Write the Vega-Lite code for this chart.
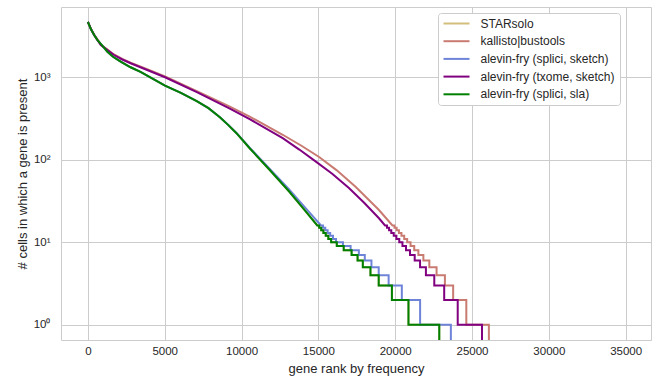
{
  "$schema": "https://vega.github.io/schema/vega-lite/v6.json",
  "width": 590,
  "height": 333,
  "autosize": {"type": "none"},
  "padding": {"left": 61, "top": 7, "right": 5, "bottom": 42},
  "background": "white",
  "config": {
    "font": "Liberation Sans",
    "view": {"stroke": "#cccccc", "strokeWidth": 1},
    "axis": {
      "domain": false,
      "ticks": false,
      "grid": true,
      "gridColor": "#cccccc",
      "gridWidth": 1,
      "labelColor": "#262626",
      "titleColor": "#262626",
      "labelFontSize": 11.5,
      "titleFontSize": 13,
      "titleFontWeight": "normal",
      "labelFont": "Liberation Sans",
      "titleFont": "Liberation Sans"
    }
  },
  "datasets": {
    "curves": [
      {"method": "STARsolo", "rank": 0, "cells": 4700},
      {"method": "STARsolo", "rank": 194, "cells": 3837},
      {"method": "STARsolo", "rank": 407, "cells": 3247},
      {"method": "STARsolo", "rank": 627, "cells": 2825},
      {"method": "STARsolo", "rank": 937, "cells": 2420},
      {"method": "STARsolo", "rank": 1273, "cells": 2041},
      {"method": "STARsolo", "rank": 1615, "cells": 1783},
      {"method": "STARsolo", "rank": 2132, "cells": 1545},
      {"method": "STARsolo", "rank": 2778, "cells": 1321},
      {"method": "STARsolo", "rank": 3424, "cells": 1159},
      {"method": "STARsolo", "rank": 5019, "cells": 791},
      {"method": "STARsolo", "rank": 6053, "cells": 646},
      {"method": "STARsolo", "rank": 7087, "cells": 515},
      {"method": "STARsolo", "rank": 7849, "cells": 422},
      {"method": "STARsolo", "rank": 8592, "cells": 327},
      {"method": "STARsolo", "rank": 9141, "cells": 263},
      {"method": "STARsolo", "rank": 9671, "cells": 210},
      {"method": "STARsolo", "rank": 10530, "cells": 138},
      {"method": "STARsolo", "rank": 11822, "cells": 75.7},
      {"method": "STARsolo", "rank": 13114, "cells": 41},
      {"method": "STARsolo", "rank": 14083, "cells": 24.9},
      {"method": "STARsolo", "rank": 14930, "cells": 16},
      {"method": "STARsolo", "rank": 15053, "cells": 16},
      {"method": "STARsolo", "rank": 15053, "cells": 15},
      {"method": "STARsolo", "rank": 15186, "cells": 15},
      {"method": "STARsolo", "rank": 15186, "cells": 14},
      {"method": "STARsolo", "rank": 15327, "cells": 14},
      {"method": "STARsolo", "rank": 15327, "cells": 13},
      {"method": "STARsolo", "rank": 15481, "cells": 13},
      {"method": "STARsolo", "rank": 15481, "cells": 12},
      {"method": "STARsolo", "rank": 15649, "cells": 12},
      {"method": "STARsolo", "rank": 15649, "cells": 11},
      {"method": "STARsolo", "rank": 15830, "cells": 11},
      {"method": "STARsolo", "rank": 15830, "cells": 10},
      {"method": "STARsolo", "rank": 16200, "cells": 10},
      {"method": "STARsolo", "rank": 16200, "cells": 9},
      {"method": "STARsolo", "rank": 16650, "cells": 9},
      {"method": "STARsolo", "rank": 16650, "cells": 8},
      {"method": "STARsolo", "rank": 17164, "cells": 8},
      {"method": "STARsolo", "rank": 17164, "cells": 7},
      {"method": "STARsolo", "rank": 17552, "cells": 7},
      {"method": "STARsolo", "rank": 17552, "cells": 6},
      {"method": "STARsolo", "rank": 17894, "cells": 6},
      {"method": "STARsolo", "rank": 17894, "cells": 5},
      {"method": "STARsolo", "rank": 18391, "cells": 5},
      {"method": "STARsolo", "rank": 18391, "cells": 4},
      {"method": "STARsolo", "rank": 18928, "cells": 4},
      {"method": "STARsolo", "rank": 18928, "cells": 3},
      {"method": "STARsolo", "rank": 19787, "cells": 3},
      {"method": "STARsolo", "rank": 19787, "cells": 2},
      {"method": "STARsolo", "rank": 20865, "cells": 2},
      {"method": "STARsolo", "rank": 20865, "cells": 1},
      {"method": "STARsolo", "rank": 22870, "cells": 1},
      {"method": "STARsolo", "rank": 22870, "cells": 0.1},

      {"method": "kallisto|bustools", "rank": 0, "cells": 4700},
      {"method": "kallisto|bustools", "rank": 194, "cells": 3860},
      {"method": "kallisto|bustools", "rank": 407, "cells": 3280},
      {"method": "kallisto|bustools", "rank": 840, "cells": 2490},
      {"method": "kallisto|bustools", "rank": 1700, "cells": 1890},
      {"method": "kallisto|bustools", "rank": 2235, "cells": 1665},
      {"method": "kallisto|bustools", "rank": 2780, "cells": 1500},
      {"method": "kallisto|bustools", "rank": 3860, "cells": 1250},
      {"method": "kallisto|bustools", "rank": 5020, "cells": 1025},
      {"method": "kallisto|bustools", "rank": 7090, "cells": 680},
      {"method": "kallisto|bustools", "rank": 9240, "cells": 441},
      {"method": "kallisto|bustools", "rank": 10530, "cells": 334},
      {"method": "kallisto|bustools", "rank": 12680, "cells": 201},
      {"method": "kallisto|bustools", "rank": 13900, "cells": 148},
      {"method": "kallisto|bustools", "rank": 15050, "cells": 108},
      {"method": "kallisto|bustools", "rank": 16200, "cells": 74.5},
      {"method": "kallisto|bustools", "rank": 17420, "cells": 47},
      {"method": "kallisto|bustools", "rank": 18930, "cells": 24.8},
      {"method": "kallisto|bustools", "rank": 19822, "cells": 16},
      {"method": "kallisto|bustools", "rank": 19953, "cells": 16},
      {"method": "kallisto|bustools", "rank": 19953, "cells": 15},
      {"method": "kallisto|bustools", "rank": 20094, "cells": 15},
      {"method": "kallisto|bustools", "rank": 20094, "cells": 14},
      {"method": "kallisto|bustools", "rank": 20244, "cells": 14},
      {"method": "kallisto|bustools", "rank": 20244, "cells": 13},
      {"method": "kallisto|bustools", "rank": 20408, "cells": 13},
      {"method": "kallisto|bustools", "rank": 20408, "cells": 12},
      {"method": "kallisto|bustools", "rank": 20587, "cells": 12},
      {"method": "kallisto|bustools", "rank": 20587, "cells": 11},
      {"method": "kallisto|bustools", "rank": 20780, "cells": 11},
      {"method": "kallisto|bustools", "rank": 20780, "cells": 10},
      {"method": "kallisto|bustools", "rank": 21000, "cells": 10},
      {"method": "kallisto|bustools", "rank": 21000, "cells": 9},
      {"method": "kallisto|bustools", "rank": 21240, "cells": 9},
      {"method": "kallisto|bustools", "rank": 21240, "cells": 8},
      {"method": "kallisto|bustools", "rank": 21510, "cells": 8},
      {"method": "kallisto|bustools", "rank": 21510, "cells": 7},
      {"method": "kallisto|bustools", "rank": 21835, "cells": 7},
      {"method": "kallisto|bustools", "rank": 21835, "cells": 6},
      {"method": "kallisto|bustools", "rank": 22222, "cells": 6},
      {"method": "kallisto|bustools", "rank": 22222, "cells": 5},
      {"method": "kallisto|bustools", "rank": 22694, "cells": 5},
      {"method": "kallisto|bustools", "rank": 22694, "cells": 4},
      {"method": "kallisto|bustools", "rank": 23236, "cells": 4},
      {"method": "kallisto|bustools", "rank": 23236, "cells": 3},
      {"method": "kallisto|bustools", "rank": 23773, "cells": 3},
      {"method": "kallisto|bustools", "rank": 23773, "cells": 2},
      {"method": "kallisto|bustools", "rank": 24630, "cells": 2},
      {"method": "kallisto|bustools", "rank": 24630, "cells": 1},
      {"method": "kallisto|bustools", "rank": 26098, "cells": 1},
      {"method": "kallisto|bustools", "rank": 26098, "cells": 0.1},

      {"method": "alevin-fry (splici, sketch)", "rank": 0, "cells": 4700},
      {"method": "alevin-fry (splici, sketch)", "rank": 194, "cells": 3837},
      {"method": "alevin-fry (splici, sketch)", "rank": 407, "cells": 3247},
      {"method": "alevin-fry (splici, sketch)", "rank": 627, "cells": 2825},
      {"method": "alevin-fry (splici, sketch)", "rank": 937, "cells": 2420},
      {"method": "alevin-fry (splici, sketch)", "rank": 1273, "cells": 2041},
      {"method": "alevin-fry (splici, sketch)", "rank": 1615, "cells": 1783},
      {"method": "alevin-fry (splici, sketch)", "rank": 2132, "cells": 1545},
      {"method": "alevin-fry (splici, sketch)", "rank": 2778, "cells": 1321},
      {"method": "alevin-fry (splici, sketch)", "rank": 3424, "cells": 1159},
      {"method": "alevin-fry (splici, sketch)", "rank": 5019, "cells": 791},
      {"method": "alevin-fry (splici, sketch)", "rank": 6053, "cells": 646},
      {"method": "alevin-fry (splici, sketch)", "rank": 7087, "cells": 515},
      {"method": "alevin-fry (splici, sketch)", "rank": 7849, "cells": 422},
      {"method": "alevin-fry (splici, sketch)", "rank": 8592, "cells": 328},
      {"method": "alevin-fry (splici, sketch)", "rank": 9141, "cells": 264},
      {"method": "alevin-fry (splici, sketch)", "rank": 9671, "cells": 211},
      {"method": "alevin-fry (splici, sketch)", "rank": 10530, "cells": 140},
      {"method": "alevin-fry (splici, sketch)", "rank": 11822, "cells": 78},
      {"method": "alevin-fry (splici, sketch)", "rank": 13114, "cells": 43.5},
      {"method": "alevin-fry (splici, sketch)", "rank": 14083, "cells": 27},
      {"method": "alevin-fry (splici, sketch)", "rank": 15172, "cells": 16},
      {"method": "alevin-fry (splici, sketch)", "rank": 15306, "cells": 16},
      {"method": "alevin-fry (splici, sketch)", "rank": 15306, "cells": 15},
      {"method": "alevin-fry (splici, sketch)", "rank": 15450, "cells": 15},
      {"method": "alevin-fry (splici, sketch)", "rank": 15450, "cells": 14},
      {"method": "alevin-fry (splici, sketch)", "rank": 15603, "cells": 14},
      {"method": "alevin-fry (splici, sketch)", "rank": 15603, "cells": 13},
      {"method": "alevin-fry (splici, sketch)", "rank": 15771, "cells": 13},
      {"method": "alevin-fry (splici, sketch)", "rank": 15771, "cells": 12},
      {"method": "alevin-fry (splici, sketch)", "rank": 15953, "cells": 12},
      {"method": "alevin-fry (splici, sketch)", "rank": 15953, "cells": 11},
      {"method": "alevin-fry (splici, sketch)", "rank": 16150, "cells": 11},
      {"method": "alevin-fry (splici, sketch)", "rank": 16150, "cells": 10},
      {"method": "alevin-fry (splici, sketch)", "rank": 16600, "cells": 10},
      {"method": "alevin-fry (splici, sketch)", "rank": 16600, "cells": 9},
      {"method": "alevin-fry (splici, sketch)", "rank": 17100, "cells": 9},
      {"method": "alevin-fry (splici, sketch)", "rank": 17100, "cells": 8},
      {"method": "alevin-fry (splici, sketch)", "rank": 17636, "cells": 8},
      {"method": "alevin-fry (splici, sketch)", "rank": 17636, "cells": 7},
      {"method": "alevin-fry (splici, sketch)", "rank": 18023, "cells": 7},
      {"method": "alevin-fry (splici, sketch)", "rank": 18023, "cells": 6},
      {"method": "alevin-fry (splici, sketch)", "rank": 18456, "cells": 6},
      {"method": "alevin-fry (splici, sketch)", "rank": 18456, "cells": 5},
      {"method": "alevin-fry (splici, sketch)", "rank": 18928, "cells": 5},
      {"method": "alevin-fry (splici, sketch)", "rank": 18928, "cells": 4},
      {"method": "alevin-fry (splici, sketch)", "rank": 19574, "cells": 4},
      {"method": "alevin-fry (splici, sketch)", "rank": 19574, "cells": 3},
      {"method": "alevin-fry (splici, sketch)", "rank": 20433, "cells": 3},
      {"method": "alevin-fry (splici, sketch)", "rank": 20433, "cells": 2},
      {"method": "alevin-fry (splici, sketch)", "rank": 21622, "cells": 2},
      {"method": "alevin-fry (splici, sketch)", "rank": 21622, "cells": 1},
      {"method": "alevin-fry (splici, sketch)", "rank": 23624, "cells": 1},
      {"method": "alevin-fry (splici, sketch)", "rank": 23624, "cells": 0.1},

      {"method": "alevin-fry (txome, sketch)", "rank": 0, "cells": 4700},
      {"method": "alevin-fry (txome, sketch)", "rank": 194, "cells": 3850},
      {"method": "alevin-fry (txome, sketch)", "rank": 407, "cells": 3247},
      {"method": "alevin-fry (txome, sketch)", "rank": 840, "cells": 2455},
      {"method": "alevin-fry (txome, sketch)", "rank": 1700, "cells": 1860},
      {"method": "alevin-fry (txome, sketch)", "rank": 2235, "cells": 1641},
      {"method": "alevin-fry (txome, sketch)", "rank": 2780, "cells": 1477},
      {"method": "alevin-fry (txome, sketch)", "rank": 3860, "cells": 1225},
      {"method": "alevin-fry (txome, sketch)", "rank": 5020, "cells": 1000},
      {"method": "alevin-fry (txome, sketch)", "rank": 7090, "cells": 659},
      {"method": "alevin-fry (txome, sketch)", "rank": 9240, "cells": 417},
      {"method": "alevin-fry (txome, sketch)", "rank": 10530, "cells": 311},
      {"method": "alevin-fry (txome, sketch)", "rank": 12680, "cells": 183},
      {"method": "alevin-fry (txome, sketch)", "rank": 13760, "cells": 133},
      {"method": "alevin-fry (txome, sketch)", "rank": 14840, "cells": 95},
      {"method": "alevin-fry (txome, sketch)", "rank": 15900, "cells": 67.6},
      {"method": "alevin-fry (txome, sketch)", "rank": 16990, "cells": 45.5},
      {"method": "alevin-fry (txome, sketch)", "rank": 17980, "cells": 30.2},
      {"method": "alevin-fry (txome, sketch)", "rank": 18930, "cells": 19.7},
      {"method": "alevin-fry (txome, sketch)", "rank": 19339, "cells": 16},
      {"method": "alevin-fry (txome, sketch)", "rank": 19466, "cells": 16},
      {"method": "alevin-fry (txome, sketch)", "rank": 19466, "cells": 15},
      {"method": "alevin-fry (txome, sketch)", "rank": 19602, "cells": 15},
      {"method": "alevin-fry (txome, sketch)", "rank": 19602, "cells": 14},
      {"method": "alevin-fry (txome, sketch)", "rank": 19747, "cells": 14},
      {"method": "alevin-fry (txome, sketch)", "rank": 19747, "cells": 13},
      {"method": "alevin-fry (txome, sketch)", "rank": 19906, "cells": 13},
      {"method": "alevin-fry (txome, sketch)", "rank": 19906, "cells": 12},
      {"method": "alevin-fry (txome, sketch)", "rank": 20079, "cells": 12},
      {"method": "alevin-fry (txome, sketch)", "rank": 20079, "cells": 11},
      {"method": "alevin-fry (txome, sketch)", "rank": 20265, "cells": 11},
      {"method": "alevin-fry (txome, sketch)", "rank": 20265, "cells": 10},
      {"method": "alevin-fry (txome, sketch)", "rank": 20473, "cells": 10},
      {"method": "alevin-fry (txome, sketch)", "rank": 20473, "cells": 9},
      {"method": "alevin-fry (txome, sketch)", "rank": 20704, "cells": 9},
      {"method": "alevin-fry (txome, sketch)", "rank": 20704, "cells": 8},
      {"method": "alevin-fry (txome, sketch)", "rank": 20966, "cells": 8},
      {"method": "alevin-fry (txome, sketch)", "rank": 20966, "cells": 7},
      {"method": "alevin-fry (txome, sketch)", "rank": 21270, "cells": 7},
      {"method": "alevin-fry (txome, sketch)", "rank": 21270, "cells": 6},
      {"method": "alevin-fry (txome, sketch)", "rank": 21620, "cells": 6},
      {"method": "alevin-fry (txome, sketch)", "rank": 21620, "cells": 5},
      {"method": "alevin-fry (txome, sketch)", "rank": 22000, "cells": 5},
      {"method": "alevin-fry (txome, sketch)", "rank": 22000, "cells": 4},
      {"method": "alevin-fry (txome, sketch)", "rank": 22545, "cells": 4},
      {"method": "alevin-fry (txome, sketch)", "rank": 22545, "cells": 3},
      {"method": "alevin-fry (txome, sketch)", "rank": 23190, "cells": 3},
      {"method": "alevin-fry (txome, sketch)", "rank": 23190, "cells": 2},
      {"method": "alevin-fry (txome, sketch)", "rank": 24070, "cells": 2},
      {"method": "alevin-fry (txome, sketch)", "rank": 24070, "cells": 1},
      {"method": "alevin-fry (txome, sketch)", "rank": 25650, "cells": 1},
      {"method": "alevin-fry (txome, sketch)", "rank": 25650, "cells": 0.1},

      {"method": "alevin-fry (splici, sla)", "rank": 0, "cells": 4700},
      {"method": "alevin-fry (splici, sla)", "rank": 194, "cells": 3837},
      {"method": "alevin-fry (splici, sla)", "rank": 407, "cells": 3247},
      {"method": "alevin-fry (splici, sla)", "rank": 627, "cells": 2825},
      {"method": "alevin-fry (splici, sla)", "rank": 937, "cells": 2420},
      {"method": "alevin-fry (splici, sla)", "rank": 1273, "cells": 2041},
      {"method": "alevin-fry (splici, sla)", "rank": 1615, "cells": 1783},
      {"method": "alevin-fry (splici, sla)", "rank": 2132, "cells": 1545},
      {"method": "alevin-fry (splici, sla)", "rank": 2778, "cells": 1321},
      {"method": "alevin-fry (splici, sla)", "rank": 3424, "cells": 1159},
      {"method": "alevin-fry (splici, sla)", "rank": 5019, "cells": 791},
      {"method": "alevin-fry (splici, sla)", "rank": 6053, "cells": 646},
      {"method": "alevin-fry (splici, sla)", "rank": 7087, "cells": 515},
      {"method": "alevin-fry (splici, sla)", "rank": 7849, "cells": 422},
      {"method": "alevin-fry (splici, sla)", "rank": 8592, "cells": 327},
      {"method": "alevin-fry (splici, sla)", "rank": 9141, "cells": 263},
      {"method": "alevin-fry (splici, sla)", "rank": 9671, "cells": 210},
      {"method": "alevin-fry (splici, sla)", "rank": 10530, "cells": 138},
      {"method": "alevin-fry (splici, sla)", "rank": 11822, "cells": 75.7},
      {"method": "alevin-fry (splici, sla)", "rank": 13114, "cells": 41},
      {"method": "alevin-fry (splici, sla)", "rank": 14083, "cells": 24.9},
      {"method": "alevin-fry (splici, sla)", "rank": 14930, "cells": 16},
      {"method": "alevin-fry (splici, sla)", "rank": 15053, "cells": 16},
      {"method": "alevin-fry (splici, sla)", "rank": 15053, "cells": 15},
      {"method": "alevin-fry (splici, sla)", "rank": 15186, "cells": 15},
      {"method": "alevin-fry (splici, sla)", "rank": 15186, "cells": 14},
      {"method": "alevin-fry (splici, sla)", "rank": 15327, "cells": 14},
      {"method": "alevin-fry (splici, sla)", "rank": 15327, "cells": 13},
      {"method": "alevin-fry (splici, sla)", "rank": 15481, "cells": 13},
      {"method": "alevin-fry (splici, sla)", "rank": 15481, "cells": 12},
      {"method": "alevin-fry (splici, sla)", "rank": 15649, "cells": 12},
      {"method": "alevin-fry (splici, sla)", "rank": 15649, "cells": 11},
      {"method": "alevin-fry (splici, sla)", "rank": 15830, "cells": 11},
      {"method": "alevin-fry (splici, sla)", "rank": 15830, "cells": 10},
      {"method": "alevin-fry (splici, sla)", "rank": 16200, "cells": 10},
      {"method": "alevin-fry (splici, sla)", "rank": 16200, "cells": 9},
      {"method": "alevin-fry (splici, sla)", "rank": 16650, "cells": 9},
      {"method": "alevin-fry (splici, sla)", "rank": 16650, "cells": 8},
      {"method": "alevin-fry (splici, sla)", "rank": 17164, "cells": 8},
      {"method": "alevin-fry (splici, sla)", "rank": 17164, "cells": 7},
      {"method": "alevin-fry (splici, sla)", "rank": 17552, "cells": 7},
      {"method": "alevin-fry (splici, sla)", "rank": 17552, "cells": 6},
      {"method": "alevin-fry (splici, sla)", "rank": 17894, "cells": 6},
      {"method": "alevin-fry (splici, sla)", "rank": 17894, "cells": 5},
      {"method": "alevin-fry (splici, sla)", "rank": 18391, "cells": 5},
      {"method": "alevin-fry (splici, sla)", "rank": 18391, "cells": 4},
      {"method": "alevin-fry (splici, sla)", "rank": 18928, "cells": 4},
      {"method": "alevin-fry (splici, sla)", "rank": 18928, "cells": 3},
      {"method": "alevin-fry (splici, sla)", "rank": 19787, "cells": 3},
      {"method": "alevin-fry (splici, sla)", "rank": 19787, "cells": 2},
      {"method": "alevin-fry (splici, sla)", "rank": 20865, "cells": 2},
      {"method": "alevin-fry (splici, sla)", "rank": 20865, "cells": 1},
      {"method": "alevin-fry (splici, sla)", "rank": 22870, "cells": 1},
      {"method": "alevin-fry (splici, sla)", "rank": 22870, "cells": 0.1}
    ]
  },
  "data": {"name": "curves"},
  "mark": {"type": "line", "strokeWidth": 2, "clip": true},
  "encoding": {
    "x": {
      "field": "rank",
      "type": "quantitative",
      "scale": {"domain": [-1750, 36650], "nice": false, "zero": false},
      "axis": {
        "values": [0, 5000, 10000, 15000, 20000, 25000, 30000, 35000],
        "format": "d",
        "title": "gene rank by frequency",
        "labelPadding": 5,
        "titlePadding": 6
      }
    },
    "y": {
      "field": "cells",
      "type": "quantitative",
      "scale": {"type": "log", "domain": [0.655, 7100], "nice": false},
      "axis": {
        "values": [1, 10, 100, 1000],
        "labelExpr": "datum.value == 1 ? '10⁰' : datum.value == 10 ? '10¹' : datum.value == 100 ? '10²' : '10³'",
        "title": "# cells in which a gene is present",
        "labelPadding": 11,
        "titlePadding": 4
      }
    },
    "color": {
      "field": "method",
      "type": "nominal",
      "scale": {
        "domain": ["STARsolo", "kallisto|bustools", "alevin-fry (splici, sketch)", "alevin-fry (txome, sketch)", "alevin-fry (splici, sla)"],
        "range": ["#d2bf7c", "#c97b72", "#6f84d8", "#800080", "#008000"]
      },
      "legend": {
        "title": null,
        "orient": "none",
        "legendX": 377,
        "legendY": 6,
        "padding": 4.5,
        "strokeColor": "#cccccc",
        "fillColor": "white",
        "cornerRadius": 3,
        "labelFontSize": 12,
        "labelColor": "#262626",
        "labelFont": "Liberation Sans",
        "symbolType": "M-1,0H4.2",
        "symbolSize": 100,
        "symbolStrokeWidth": 2,
        "labelOffset": 26,
        "rowPadding": 5.7
      }
    },
    "order": {"value": null}
  }
}
